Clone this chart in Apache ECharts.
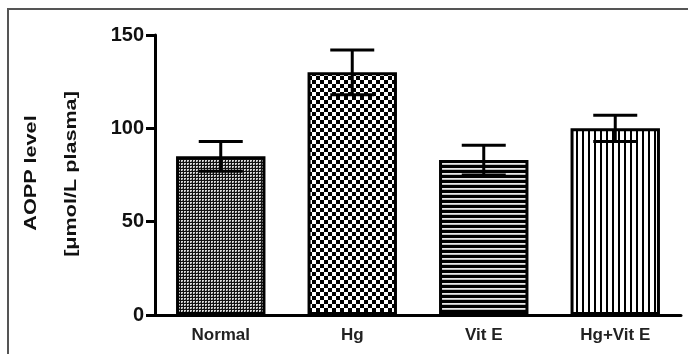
<!DOCTYPE html>
<html><head><meta charset="utf-8">
<script src="https://cdn.jsdelivr.net/npm/echarts@6/dist/echarts.min.js"></script>
<style>html,body{margin:0;padding:0;background:#fff}#c{width:688px;height:354px}</style>
</head><body><div id="c"></div>
<script>
var categories = ['Normal', 'Hg', 'Vit E', 'Hg+Vit E'];
var means = [85, 130, 83, 100];
var errors = [8, 12, 8, 7];
var yTicks = [0, 50, 100, 150];

function pat(w, h, draw) {
  var c = document.createElement('canvas'); c.width = w; c.height = h;
  var g = c.getContext('2d'); draw(g, w, h);
  return { image: c, repeat: 'repeat' };
}
var patterns = [
  pat(3, 3, function (g) { g.fillStyle = '#111'; g.fillRect(0, 0, 3, 3); g.fillStyle = '#d8d8d8'; g.fillRect(1, 1, 2, 2); g.fillStyle = '#777'; g.fillRect(2, 2, 1, 1); }),
  pat(8, 8, function (g) { g.fillStyle = '#fff'; g.fillRect(0, 0, 8, 8); g.fillStyle = '#000'; g.fillRect(0, 0, 4, 4); g.fillRect(4, 4, 4, 4); }),
  pat(1, 5, function (g) { g.fillStyle = '#000'; g.fillRect(0, 0, 1, 5); g.fillStyle = '#e8e8e8'; g.fillRect(0, 3, 1, 1); g.fillStyle = '#bbb'; g.fillRect(0, 4, 1, 1); }),
  pat(6, 1, function (g) { g.fillStyle = '#fff'; g.fillRect(0, 0, 6, 1); g.fillStyle = '#000'; g.fillRect(0, 0, 2, 1); })
];

var chart = echarts.init(document.getElementById('c'));
var F = 'Liberation Sans, Arial, sans-serif';
chart.setOption({
  animation: false,
  grid: { left: 155, right: 7, top: 35, bottom: 39 },
  xAxis: {
    type: 'category', data: categories,
    axisLine: { lineStyle: { color: '#000', width: 3 } },
    axisTick: { alignWithLabel: true, length: 6, lineStyle: { color: '#000', width: 3 } },
    axisLabel: { color: '#222', fontFamily: F, fontWeight: 'bold', fontSize: 17, margin: 12 }
  },
  yAxis: {
    type: 'value', min: 0, max: 150, interval: 50,
    axisLine: { show: true, lineStyle: { color: '#000', width: 3 } },
    axisTick: { show: true, length: 9, lineStyle: { color: '#000', width: 3 } },
    axisLabel: { color: '#111', fontFamily: F, fontWeight: 'bold', fontSize: 20, margin: 11,
      formatter: function (v) { return yTicks.indexOf(v) >= 0 ? String(v) : ''; } },
    splitLine: { show: false }
  },
  graphic: [
    { type: 'rect', shape: { x: 8, y: 9, width: 700, height: 400 }, style: { fill: 'none', stroke: '#555', lineWidth: 2 }, silent: true },
    { type: 'text', x: 32, y: 173, rotation: Math.PI / 2, scaleX: 1.35, style: { text: 'AOPP level', font: 'bold 16px ' + F, fill: '#111', textAlign: 'center', textVerticalAlign: 'middle' } },
    { type: 'text', x: 72, y: 174, rotation: Math.PI / 2, scaleX: 1.35, style: { text: '[μmol/L plasma]', font: 'bold 16px ' + F, fill: '#111', textAlign: 'center', textVerticalAlign: 'middle' } }
  ],
  series: [
    {
      type: 'bar', barWidth: '68%',
      data: means.map(function (v, i) {
        return { value: v, itemStyle: { color: patterns[i], borderColor: '#000', borderWidth: 3 } };
      })
    },
    {
      type: 'custom', z: 5,
      data: means.map(function (v, i) { return [i, v, errors[i]]; }),
      renderItem: function (params, api) {
        var i = api.value(0), m = api.value(1), e = api.value(2);
        var hi = api.coord([i, m + e]), lo = api.coord([i, m - e]);
        var hw = 22;
        var st = { stroke: '#000', lineWidth: 3 };
        return { type: 'group', children: [
          { type: 'line', shape: { x1: hi[0], y1: hi[1], x2: lo[0], y2: lo[1] }, style: st },
          { type: 'line', shape: { x1: hi[0] - hw, y1: hi[1], x2: hi[0] + hw, y2: hi[1] }, style: st },
          { type: 'line', shape: { x1: lo[0] - hw, y1: lo[1], x2: lo[0] + hw, y2: lo[1] }, style: st }
        ] };
      }
    }
  ]
});
</script></body></html>
